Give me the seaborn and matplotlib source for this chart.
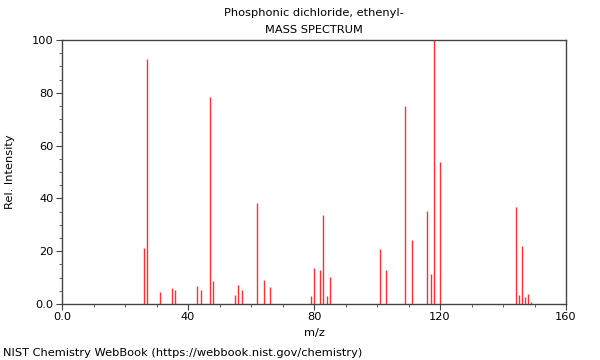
import matplotlib
matplotlib.use("Agg")
import matplotlib.pyplot as plt
from matplotlib.ticker import MultipleLocator, FuncFormatter
import seaborn as sns
import pandas as pd

mz = [26, 27, 31, 35, 36, 43, 44, 47, 48, 55, 56, 57, 62, 64, 66,
      79, 80, 82, 83, 84, 85, 101, 103, 109, 111, 116, 117, 118, 120,
      144, 145, 146, 147, 148, 149]
intensity = [21.1, 92.8, 4.6, 6.0, 5.2, 6.8, 5.3, 78.4, 8.7, 3.4, 7.1, 5.2, 38.1, 9.1, 6.4,
             3.0, 13.8, 12.9, 33.8, 3.0, 10.4, 20.7, 12.8, 75.0, 24.4, 35.1, 11.4, 100.0, 53.8,
             36.6, 3.4, 22.1, 2.8, 3.8, 0.9]

title_lines = ["Phosphonic dichloride, ethenyl-", "MASS SPECTRUM"]
x_ticks = [0, 40, 80, 120, 160]
y_ticks = [0, 20, 40, 60, 80, 100]

df = pd.DataFrame({"mz": mz, "intensity": intensity})

sns.set_theme(style="ticks")
plt.rcParams["font.family"] = ["DejaVu Sans"]

fig = plt.figure(figsize=(6, 3.6), dpi=100)
ax = fig.add_axes([62/600, 1-304/360, 504/600, 264/360])

ax.vlines(df["mz"], 0, df["intensity"], color="#ff3030", linewidth=1.0)

ax.set_xlim(0, 160)
ax.set_ylim(0, 100)
ax.set_xticks(x_ticks)
ax.set_yticks(y_ticks)
ax.xaxis.set_minor_locator(MultipleLocator(10))
ax.yaxis.set_minor_locator(MultipleLocator(5))
fmt = FuncFormatter(lambda v, p: "0.0" if v == 0 else f"{int(v)}")
ax.xaxis.set_major_formatter(fmt)
ax.yaxis.set_major_formatter(fmt)

for s in ax.spines.values():
    s.set_color("#444444")
    s.set_linewidth(1.0)
ax.tick_params(axis="both", which="major", length=4, width=0.8, color="#444444",
               labelsize=8.2, labelcolor="black", direction="out", pad=2)
ax.tick_params(axis="both", which="minor", length=2, width=0.6, color="#444444", direction="out")
ax.tick_params(top=False, right=False, which="both")

ax.set_xlabel("m/z", fontsize=8.2, labelpad=4, color="black")
ax.set_ylabel("Rel. Intensity", fontsize=8.2, labelpad=12, color="black")

fig.text(0.5*(62+566)/600, 1-13/360, title_lines[0], ha="center", va="center", fontsize=8.2, color="black")
fig.text(0.5*(62+566)/600, 1-30/360, title_lines[1], ha="center", va="center", fontsize=8.2, color="black")
fig.text(3/600, 1-353/360, "NIST Chemistry WebBook (https://webbook.nist.gov/chemistry)",
         ha="left", va="center", fontsize=8.2, color="black")

fig.savefig("out.png", dpi=100)
